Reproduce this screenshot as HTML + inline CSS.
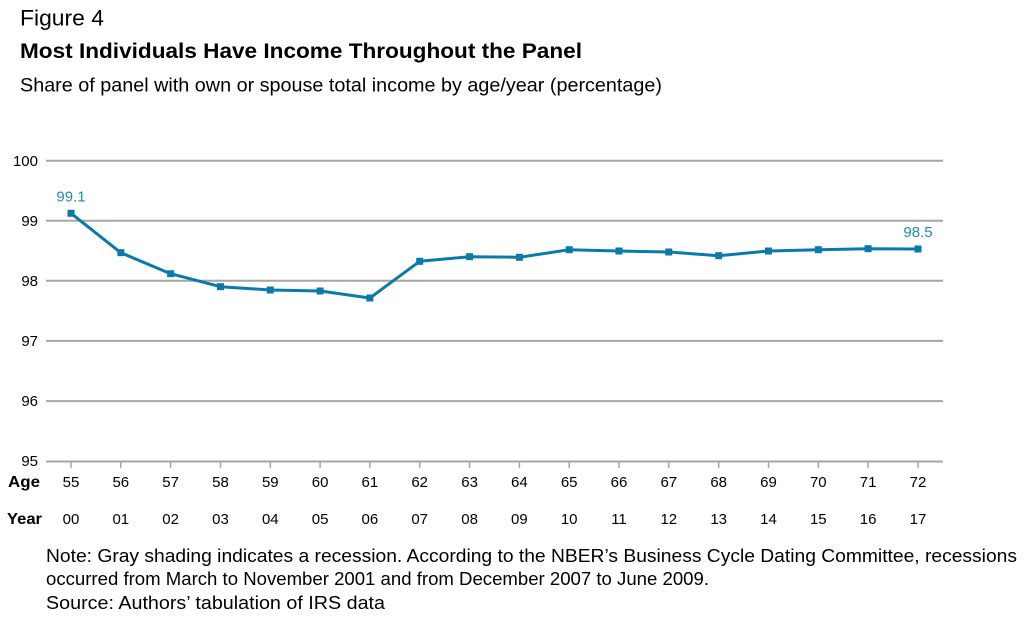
<!DOCTYPE html>
<html>
<head>
<meta charset="utf-8">
<style>
html,body{margin:0;padding:0;background:#fff;}
svg{display:block;}
text{font-family:"Liberation Sans",sans-serif;}
</style>
</head>
<body>
<svg width="1024" height="629" viewBox="0 0 1024 629" xmlns="http://www.w3.org/2000/svg">
<rect width="1024" height="629" fill="#fff"/>
<!-- Titles -->
<text x="20" y="25.5" font-size="22" fill="#000" textLength="84" lengthAdjust="spacingAndGlyphs">Figure 4</text>
<text x="20" y="58" font-size="21" font-weight="bold" fill="#000" textLength="562" lengthAdjust="spacingAndGlyphs">Most Individuals Have Income Throughout the Panel</text>
<text x="20" y="91.5" font-size="19.5" fill="#000" textLength="642" lengthAdjust="spacingAndGlyphs">Share of panel with own or spouse total income by age/year (percentage)</text>

<!-- Gridlines -->
<g stroke="#a6a6a6" stroke-width="2">
<line x1="46" y1="160.7" x2="943" y2="160.7"/>
<line x1="46" y1="220.7" x2="943" y2="220.7"/>
<line x1="46" y1="280.7" x2="943" y2="280.7"/>
<line x1="46" y1="340.9" x2="943" y2="340.9"/>
<line x1="46" y1="401.1" x2="943" y2="401.1"/>
<line x1="46" y1="461.5" x2="943" y2="461.5"/>
</g>
<!-- Ticks -->
<g stroke="#a6a6a6" stroke-width="1.5">
<line x1="71" y1="461" x2="71" y2="468"/>
<line x1="120.8" y1="461" x2="120.8" y2="468"/>
<line x1="170.6" y1="461" x2="170.6" y2="468"/>
<line x1="220.5" y1="461" x2="220.5" y2="468"/>
<line x1="270.3" y1="461" x2="270.3" y2="468"/>
<line x1="320.1" y1="461" x2="320.1" y2="468"/>
<line x1="369.9" y1="461" x2="369.9" y2="468"/>
<line x1="419.7" y1="461" x2="419.7" y2="468"/>
<line x1="469.6" y1="461" x2="469.6" y2="468"/>
<line x1="519.4" y1="461" x2="519.4" y2="468"/>
<line x1="569.2" y1="461" x2="569.2" y2="468"/>
<line x1="619" y1="461" x2="619" y2="468"/>
<line x1="668.8" y1="461" x2="668.8" y2="468"/>
<line x1="718.7" y1="461" x2="718.7" y2="468"/>
<line x1="768.5" y1="461" x2="768.5" y2="468"/>
<line x1="818.3" y1="461" x2="818.3" y2="468"/>
<line x1="868.1" y1="461" x2="868.1" y2="468"/>
<line x1="918" y1="461" x2="918" y2="468"/>
</g>

<!-- Y labels -->
<g font-size="15" fill="#000" text-anchor="end">
<text x="38" y="166">100</text>
<text x="38" y="226">99</text>
<text x="38" y="286">98</text>
<text x="38" y="346">97</text>
<text x="38" y="406">96</text>
<text x="38" y="466">95</text>
</g>

<!-- Age / Year row labels -->
<text x="8" y="487" font-size="16" font-weight="bold" fill="#000" textLength="32" lengthAdjust="spacingAndGlyphs">Age</text>
<text x="7" y="524" font-size="16" font-weight="bold" fill="#000" textLength="35" lengthAdjust="spacingAndGlyphs">Year</text>

<g font-size="15" fill="#000" text-anchor="middle">
<text x="71" y="487">55</text>
<text x="120.8" y="487">56</text>
<text x="170.6" y="487">57</text>
<text x="220.5" y="487">58</text>
<text x="270.3" y="487">59</text>
<text x="320.1" y="487">60</text>
<text x="369.9" y="487">61</text>
<text x="419.7" y="487">62</text>
<text x="469.6" y="487">63</text>
<text x="519.4" y="487">64</text>
<text x="569.2" y="487">65</text>
<text x="619" y="487">66</text>
<text x="668.8" y="487">67</text>
<text x="718.7" y="487">68</text>
<text x="768.5" y="487">69</text>
<text x="818.3" y="487">70</text>
<text x="868.1" y="487">71</text>
<text x="918" y="487">72</text>

<text x="71" y="524">00</text>
<text x="120.8" y="524">01</text>
<text x="170.6" y="524">02</text>
<text x="220.5" y="524">03</text>
<text x="270.3" y="524">04</text>
<text x="320.1" y="524">05</text>
<text x="369.9" y="524">06</text>
<text x="419.7" y="524">07</text>
<text x="469.6" y="524">08</text>
<text x="519.4" y="524">09</text>
<text x="569.2" y="524">10</text>
<text x="619" y="524">11</text>
<text x="668.8" y="524">12</text>
<text x="718.7" y="524">13</text>
<text x="768.5" y="524">14</text>
<text x="818.3" y="524">15</text>
<text x="868.1" y="524">16</text>
<text x="918" y="524">17</text>
</g>

<!-- Series -->
<polyline fill="none" stroke="#0a7aad" stroke-width="3" stroke-linejoin="round"
points="71,213.3 120.8,252.7 170.6,273.7 220.5,286.7 270.3,290 320.1,291 369.9,298 419.7,261.3 469.6,256.7 519.4,257.3 569.2,249.7 619,251 668.8,252 718.7,255.7 768.5,251 818.3,249.7 868.1,248.7 918,249"/>
<g fill="#0a7aad">
<rect x="67.5" y="209.8" width="7" height="7"/>
<rect x="117.3" y="249.2" width="7" height="7"/>
<rect x="167.1" y="270.2" width="7" height="7"/>
<rect x="217" y="283.2" width="7" height="7"/>
<rect x="266.8" y="286.5" width="7" height="7"/>
<rect x="316.6" y="287.5" width="7" height="7"/>
<rect x="366.4" y="294.5" width="7" height="7"/>
<rect x="416.2" y="257.8" width="7" height="7"/>
<rect x="466.1" y="253.2" width="7" height="7"/>
<rect x="515.9" y="253.8" width="7" height="7"/>
<rect x="565.7" y="246.2" width="7" height="7"/>
<rect x="615.5" y="247.5" width="7" height="7"/>
<rect x="665.3" y="248.5" width="7" height="7"/>
<rect x="715.2" y="252.2" width="7" height="7"/>
<rect x="765" y="247.5" width="7" height="7"/>
<rect x="814.8" y="246.2" width="7" height="7"/>
<rect x="864.6" y="245.2" width="7" height="7"/>
<rect x="914.5" y="245.5" width="7" height="7"/>
</g>

<!-- Data labels -->
<g font-size="15" fill="#1f88bd" text-anchor="middle">
<text x="71" y="201.5">99.1</text>
<text x="918" y="237">98.5</text>
</g>

<!-- Notes -->
<text x="46" y="562" font-size="18" fill="#000" textLength="971" lengthAdjust="spacingAndGlyphs">Note: Gray shading indicates a recession. According to the NBER’s Business Cycle Dating Committee, recessions</text>
<text x="46" y="585" font-size="18" fill="#000" textLength="663" lengthAdjust="spacingAndGlyphs">occurred from March to November 2001 and from December 2007 to June 2009.</text>
<text x="46" y="609" font-size="18" fill="#000" textLength="339" lengthAdjust="spacingAndGlyphs">Source: Authors’ tabulation of IRS data</text>
</svg>
</body>
</html>
